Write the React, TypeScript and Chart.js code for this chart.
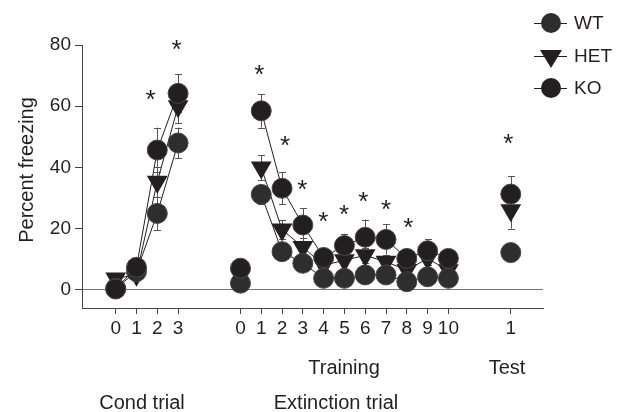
import React, { useEffect, useRef } from "react";
import { Chart, registerables } from "chart.js";

Chart.register(...registerables);

// ---- data ----
const condTrials = [0, 1, 2, 3];
const extTrials = [0, 1, 2, 3, 4, 5, 6, 7, 8, 9, 10];
const testTrials = [1];
const EXT_OFFSET = 6;
const TEST_OFFSET = 18;

const wtCond = [0.5, 6, 25, 48];
const wtExt = [2.2, 31.2, 12.5, 8.7, 3.8, 3.8, 4.9, 4.9, 2.7, 4.3, 3.8];
const wtTest = [12.2];
const hetCond = [3.7, 5, 35.3, 60];
const hetExt = [4.5, 40, 19.7, 14, 8, 9.7, 11.3, 9.2, 6.5, 10.2, 6.4];
const hetTest = [26];
const koCond = [0.3, 7.4, 45.7, 64.2];
const koExt = [7.1, 58.5, 33.2, 21.2, 10.6, 14.5, 17.2, 16.5, 10.3, 12.8, 10.3];
const koTest = [31.3];

const wtErrCond = [0.5, 1.5, 5.4, 5];
const wtErrExt = [1, 3, 2, 1.5, 1, 1, 1, 1, 1, 1, 1];
const wtErrTest = [2];
const hetErrCond = [1, 1.5, 5, 5.5];
const hetErrExt = [1.5, 4, 3, 3, 2, 2, 2.5, 2, 2, 2, 2];
const hetErrTest = [6];
const koErrCond = [0.5, 2, 7.3, 6.2];
const koErrExt = [1.5, 5.5, 5.2, 5.4, 2, 3.9, 5.8, 5, 2, 3.7, 2];
const koErrTest = [5.9];

const starX = [1.68, 2.93, 6.91, 8.14, 8.98, 9.99, 10.98, 11.91, 13.0, 14.07, 18.88];
const starY = [64.2, 80.8, 72.4, 49.2, 34.8, 24.5, 26.9, 31.0, 28.3, 22.6, 49.9];

const yTicks = [0, 20, 40, 60, 80];
const tickPositions = [
  ...condTrials,
  ...extTrials.map((t) => t + EXT_OFFSET),
  ...testTrials.map((t) => t + TEST_OFFSET),
];
const tickLabels = [
  ...condTrials.map(String),
  ...extTrials.map(String),
  ...testTrials.map(String),
];

const FONT = "'Liberation Sans', Arial, Helvetica, sans-serif";
const INK = "#231f20";

function build(cond: number[], ext: number[], test: number[]) {
  return [
    ...cond.map((v, i) => ({ x: condTrials[i], y: v })),
    { x: 4.5, y: null },
    { x: extTrials[0] + EXT_OFFSET, y: ext[0] },
    { x: 6.5, y: null },
    ...ext.slice(1).map((v, i) => ({ x: extTrials[i + 1] + EXT_OFFSET, y: v })),
    { x: 17.5, y: null },
    ...test.map((v, i) => ({ x: testTrials[i] + TEST_OFFSET, y: v })),
  ];
}
function buildErr(cond: number[], ext: number[], test: number[]) {
  return [...cond, null, ext[0], null, ...ext.slice(1), null, ...test];
}

const errorBars = {
  id: "errorBars",
  beforeDatasetsDraw(chart: any) {
    const ctx = chart.ctx;
    const ys = chart.scales.y;
    ctx.save();
    ctx.strokeStyle = "#555";
    ctx.lineWidth = 1;
    chart.data.datasets.forEach((ds: any, di: number) => {
      const meta = chart.getDatasetMeta(di);
      ds.data.forEach((p: any, i: number) => {
        const e = ds.errors[i];
        if (p.y == null || e == null) return;
        const x = Math.round(meta.data[i].x) + 0.5;
        const y1 = ys.getPixelForValue(p.y + e);
        const y2 = ys.getPixelForValue(p.y - e);
        ctx.beginPath();
        ctx.moveTo(x, y1);
        ctx.lineTo(x, y2);
        ctx.moveTo(x - 3.5, Math.round(y1) + 0.5);
        ctx.lineTo(x + 3.5, Math.round(y1) + 0.5);
        ctx.moveTo(x - 3.5, Math.round(y2) + 0.5);
        ctx.lineTo(x + 3.5, Math.round(y2) + 0.5);
        ctx.stroke();
      });
    });
    ctx.restore();
  },
};

const overlay = {
  id: "overlay",
  afterDraw(chart: any) {
    const ctx = chart.ctx;
    const xs = chart.scales.x;
    const ys = chart.scales.y;
    ctx.save();
    ctx.fillStyle = INK;
    // y title
    ctx.save();
    ctx.translate(27, 170);
    ctx.rotate(-Math.PI / 2);
    ctx.font = `20px ${FONT}`;
    ctx.textAlign = "center";
    ctx.textBaseline = "middle";
    ctx.fillText("Percent freezing", 0, 0);
    ctx.restore();
    // group labels
    ctx.font = `20px ${FONT}`;
    ctx.textAlign = "center";
    ctx.textBaseline = "middle";
    ctx.fillText("Training", 344, 368);
    ctx.fillText("Test", 507, 368);
    ctx.fillText("Cond trial", 142, 403);
    ctx.fillText("Extinction trial", 336, 403);
    // asterisks
    ctx.font = `26px ${FONT}`;
    ctx.textBaseline = "alphabetic";
    starX.forEach((sx, i) => {
      const px = xs.getPixelForValue(sx);
      const py = ys.getPixelForValue(starY[i]);
      ctx.fillText("*", px, py + 15);
    });
    // legend
    const rows = [
      { label: "WT", y: 23, shape: "circle", color: "#2e2e2e" },
      { label: "HET", y: 56, shape: "tri", color: INK },
      { label: "KO", y: 88, shape: "circle", color: INK },
    ];
    ctx.font = `19px ${FONT}`;
    ctx.textAlign = "left";
    ctx.textBaseline = "middle";
    rows.forEach((r) => {
      ctx.strokeStyle = INK;
      ctx.lineWidth = 1;
      ctx.beginPath();
      ctx.moveTo(534, r.y + 0.5);
      ctx.lineTo(567, r.y + 0.5);
      ctx.stroke();
      ctx.fillStyle = r.color;
      ctx.beginPath();
      if (r.shape === "circle") {
        ctx.arc(551, r.y, 10, 0, Math.PI * 2);
      } else {
        ctx.moveTo(540, r.y - 6);
        ctx.lineTo(562, r.y - 6);
        ctx.lineTo(551, r.y + 12);
        ctx.closePath();
      }
      ctx.fill();
      ctx.fillStyle = INK;
      ctx.fillText(r.label, 574, r.y + 1);
    });
    ctx.restore();
  },
};

export default function App() {
  const ref = useRef<HTMLCanvasElement>(null);
  useEffect(() => {
    const canvas = ref.current!;
    const chart = new Chart(canvas, {
      type: "line",
      data: {
        datasets: [
          {
            label: "KO",
            data: build(koCond, koExt, koTest) as any,
            errors: buildErr(koErrCond, koErrExt, koErrTest),
            borderColor: INK,
            borderWidth: 1,
            pointBackgroundColor: INK,
            pointBorderColor: "#4a4647",
            pointBorderWidth: 1,
            pointRadius: 10,
            pointStyle: "circle",
            order: 0,
          } as any,
          {
            label: "WT",
            data: build(wtCond, wtExt, wtTest) as any,
            errors: buildErr(wtErrCond, wtErrExt, wtErrTest),
            borderColor: INK,
            borderWidth: 1,
            pointBackgroundColor: "#2e2e2e",
            pointBorderColor: "#444",
            pointBorderWidth: 1,
            pointRadius: 10,
            pointStyle: "circle",
            order: 1,
          } as any,
          {
            label: "HET",
            data: build(hetCond, hetExt, hetTest) as any,
            errors: buildErr(hetErrCond, hetErrExt, hetErrTest),
            borderColor: INK,
            borderWidth: 1,
            pointBackgroundColor: INK,
            pointBorderColor: INK,
            pointBorderWidth: 0,
            pointRadius: 12,
            pointStyle: "triangle",
            pointRotation: 180,
            order: 2,
          } as any,
        ],
      },
      options: {
        animation: false,
        responsive: false,
        devicePixelRatio: 1,
        spanGaps: false,
        layout: { padding: { top: 45, right: 79, left: 0, bottom: 0 } },
        plugins: { legend: { display: false }, tooltip: { enabled: false } },
        elements: { line: { tension: 0 } },
        scales: {
          x: {
            type: "linear",
            min: -1.62,
            max: 20.55,
            afterBuildTicks: (s: any) => {
              s.ticks = tickPositions.map((v) => ({ value: v }));
            },
            afterFit: (s: any) => {
              s.height = 104;
            },
            ticks: {
              autoSkip: false,
              maxRotation: 0,
              padding: 3,
              color: INK,
              font: { family: FONT, size: 19 },
              callback: (_v: any, i: number) => tickLabels[i],
            },
            grid: {
              drawOnChartArea: false,
              drawTicks: true,
              tickLength: 6,
              tickColor: "#444",
              color: "#444",
            },
            border: { display: true, color: "#444", width: 1 },
          },
          y: {
            min: -5.9,
            max: 80,
            afterBuildTicks: (s: any) => {
              s.ticks = yTicks.map((v) => ({ value: v }));
            },
            afterFit: (s: any) => {
              s.width = 82;
            },
            ticks: {
              padding: 4,
              color: INK,
              font: { family: FONT, size: 19 },
            },
            grid: {
              drawTicks: true,
              tickLength: 7,
              tickColor: "#444",
              color: (c: any) => (c.tick && c.tick.value === 0 ? "#777" : "rgba(0,0,0,0)"),
            },
            border: { display: true, color: "#444", width: 1 },
          },
        },
      },
      plugins: [errorBars, overlay],
    } as any);
    return () => chart.destroy();
  }, []);
  return (
    <div style={{ position: "fixed", left: 0, top: 0, width: 622, height: 412, background: "#fff" }}>
      <canvas ref={ref} width={622} height={412} style={{ display: "block" }} />
    </div>
  );
}
